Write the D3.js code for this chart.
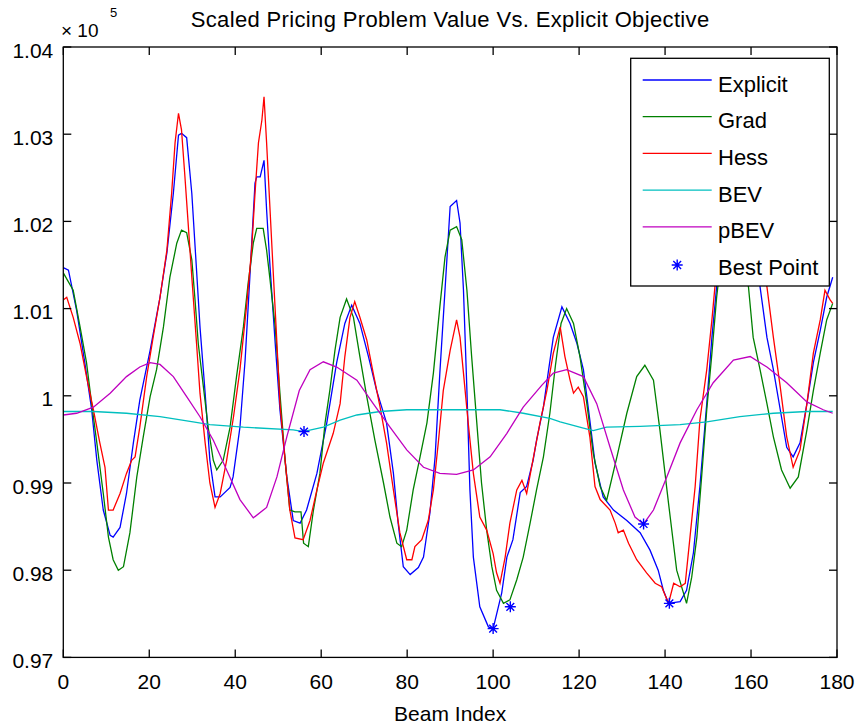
<!DOCTYPE html>
<html>
<head>
<meta charset="utf-8">
<script src="https://cdnjs.cloudflare.com/ajax/libs/d3/7.8.5/d3.min.js"></script>
<style>
  body { margin: 0; background: #fff; }
  text { font-family: "Liberation Sans", Arial, sans-serif; fill: #000; }
</style>
</head>
<body>
<script>
// values, [beam index, value / 1e5]
var explicit = [[0,1.0147],[1.2,1.0144],[3.1,1.0098],[5,1.0038],[6.6,0.9984],[7.8,0.9926],[9.3,0.9869],[10.9,0.984],[11.6,0.9838],[13.2,0.9849],[14.7,0.9888],[16.3,0.9946],[17.8,0.9995],[20.2,1.0052],[22.5,1.0113],[24.1,1.0164],[25.6,1.0232],[26.8,1.0299],[27.5,1.0301],[28.7,1.0296],[29.9,1.0232],[31,1.0144],[31.8,1.0079],[33,1.0003],[34.1,0.9926],[35.3,0.9884],[36.5,0.9884],[38.8,0.9895],[39.5,0.9907],[41.1,0.9964],[42.3,1.0041],[43.4,1.0136],[44.6,1.0244],[45,1.0251],[45.8,1.0251],[46.7,1.027],[47.3,1.0213],[48.1,1.0148],[49.3,1.006],[50.4,0.9984],[52,0.9907],[53.5,0.9857],[55.1,0.9854],[56.6,0.9869],[59,0.9911],[61.3,0.9969],[63.6,1.0038],[65.5,1.0083],[67.1,1.0104],[69,1.0083],[71,1.0045],[72.9,1.0006],[75.2,0.9969],[76.8,0.9911],[77.9,0.9854],[79.1,0.9804],[80.7,0.9795],[82.6,0.9803],[83.8,0.9815],[85.3,0.9866],[86.5,0.993],[87.6,1.0026],[88.8,1.0121],[90,1.0217],[91.5,1.0224],[92.3,1.0198],[93.1,1.0121],[93.9,1.0006],[94.6,0.9892],[95.4,0.9815],[96.9,0.9758],[98.9,0.9735],[100,0.9733],[102,0.9774],[103.2,0.9815],[104.6,0.9835],[106.3,0.9889],[107.8,0.9896],[109.3,0.9926],[110.1,0.9949],[111.7,0.9987],[112.8,1.0026],[114,1.0067],[116,1.0102],[117.9,1.0083],[119.5,1.006],[121,1.003],[122.5,0.9972],[123.7,0.9923],[125.6,0.9884],[128,0.9869],[131.1,0.9857],[134.2,0.9843],[136.5,0.9823],[138.4,0.98],[139.6,0.9777],[140.8,0.9762],[143.5,0.9764],[145,0.9777],[146.6,0.982],[148.1,0.9896],[149.7,0.9991],[150.9,1.0067],[152,1.0125],[154,1.022],[156.5,1.029],[158.5,1.026],[160.5,1.02],[162.1,1.0125],[163.7,1.0067],[165.2,1.003],[166.8,0.9984],[168.3,0.9941],[169.8,0.993],[171.4,0.9946],[173,0.9991],[174.5,1.0038],[176.1,1.0075],[177.6,1.0113],[179,1.0136]];

var grad = [[0,1.0141],[2.3,1.0121],[3.9,1.0079],[5.4,1.0038],[6.6,0.9991],[7.8,0.9946],[9.3,0.9888],[10.5,0.9838],[11.6,0.9812],[12.8,0.98],[14,0.9804],[15.5,0.9843],[17.1,0.9907],[18.6,0.9953],[20.2,0.9999],[21.7,1.003],[23.3,1.0079],[24.8,1.0136],[26.4,1.0175],[27.5,1.019],[28.7,1.0187],[29.9,1.0156],[30.6,1.0113],[31.4,1.006],[32.6,1.001],[33.7,0.9964],[34.9,0.9926],[35.7,0.9915],[37.2,0.9926],[38.8,0.9964],[40.3,1.0022],[41.9,1.0079],[43,1.0129],[44.2,1.0175],[45,1.0192],[46.5,1.0192],[47.3,1.0167],[48.1,1.0133],[49.3,1.0079],[50.4,1.0003],[51.6,0.9926],[52.7,0.9869],[53.9,0.9867],[55.3,0.9867],[55.9,0.9831],[57,0.9827],[58.2,0.9869],[59.7,0.9911],[60.9,0.9969],[62,1.0006],[63.2,1.0052],[64.4,1.009],[65.9,1.0111],[67.5,1.009],[69,1.0045],[70.6,0.9999],[72.5,0.9949],[74.5,0.99],[76,0.9861],[77.6,0.9831],[78.7,0.9827],[79.9,0.9846],[81.4,0.9892],[83,0.993],[84.6,0.9969],[86.1,1.0026],[87.6,1.0102],[88.8,1.0159],[90,1.019],[91.5,1.0194],[92.7,1.0179],[93.9,1.0121],[95,1.0045],[96.2,0.9969],[97.3,0.99],[98.5,0.9846],[99.7,0.9804],[100.8,0.9777],[102.4,0.9762],[103.9,0.9766],[105.5,0.9789],[107,0.9815],[108.6,0.9854],[110.1,0.9892],[111.7,0.993],[113.2,0.998],[114.5,1.0035],[115.8,1.0083],[117.1,1.01],[118.7,1.0083],[120.2,1.0045],[121.8,0.9991],[123.3,0.9934],[124.9,0.9896],[126.4,0.988],[128.8,0.993],[131.1,0.998],[133.4,1.0022],[135.3,1.0035],[137.3,1.0018],[138.8,0.9961],[140.8,0.9877],[142.7,0.98],[145,0.9762],[146.2,0.9792],[147.4,0.9838],[148.5,0.9907],[149.7,0.9984],[150.9,1.0049],[152,1.0113],[153.8,1.019],[155.5,1.0235],[157.3,1.021],[159.4,1.0125],[160.5,1.0067],[162.1,1.003],[163.7,0.9991],[165.2,0.9953],[167.1,0.9915],[169.1,0.9894],[171,0.9907],[173,0.9961],[174.5,1.0006],[176.1,1.0049],[177.6,1.0087],[179,1.0106]];

var hess = [[0,1.011],[0.8,1.0113],[2.3,1.009],[3.9,1.006],[5.4,1.0022],[7,0.9984],[8.5,0.9946],[9.7,0.9918],[10.5,0.9869],[11.6,0.9869],[13.2,0.9888],[14.7,0.9911],[15.9,0.9926],[16.7,0.993],[17.8,0.9964],[19.4,1.0022],[20.9,1.0067],[22.5,1.0113],[24.1,1.0167],[25.2,1.0232],[26,1.029],[26.8,1.0324],[27.5,1.0305],[28.3,1.0251],[29.1,1.0194],[29.9,1.0136],[31,1.006],[31.8,1.0003],[33,0.9946],[34.1,0.99],[35.3,0.9872],[36.5,0.9888],[38,0.9926],[39.6,0.9976],[41.1,1.003],[42.7,1.0106],[43.8,1.0167],[44.6,1.0232],[45.4,1.029],[46.2,1.0316],[46.7,1.0343],[47.3,1.029],[48.1,1.0213],[48.9,1.0136],[49.7,1.006],[50.4,0.9991],[51.6,0.9926],[52.7,0.9869],[53.9,0.9837],[55.8,0.9835],[57.4,0.9857],[59,0.9892],[60.5,0.9923],[62.8,0.9957],[64.4,0.9991],[65.5,1.0045],[66.7,1.009],[67.8,1.0108],[69,1.009],[70.6,1.0064],[72.1,1.0026],[73.7,0.9987],[75.2,0.9946],[76.8,0.9892],[78.3,0.9843],[79.9,0.9812],[81.1,0.9812],[81.8,0.9827],[83.4,0.9835],[84.9,0.9857],[86.1,0.9892],[87.3,0.9949],[88.4,1.0006],[90,1.0052],[91.5,1.0087],[92.3,1.0067],[93.1,1.0026],[94.2,0.9969],[95.4,0.9911],[96.9,0.9861],[98.5,0.9846],[100,0.9819],[100.8,0.9797],[101.6,0.9785],[102.8,0.9815],[103.9,0.9854],[105.5,0.9892],[106.7,0.9903],[107.8,0.9888],[109.4,0.993],[110.9,0.9969],[112.5,1.0006],[114,1.0049],[115.6,1.0079],[116.7,1.0045],[117.9,1.0018],[118.7,1.0003],[119.8,1.001],[121,0.9999],[122.5,0.9953],[123.7,0.9896],[124.9,0.9881],[127.2,0.9869],[128.4,0.9854],[129.1,0.9843],[130.3,0.9846],[131.5,0.9831],[133.4,0.9812],[135.7,0.9797],[137.7,0.9785],[139.2,0.9781],[140.8,0.9762],[142,0.9785],[143.5,0.9781],[144.7,0.9785],[145.8,0.9838],[147,0.9896],[148.1,0.9972],[149.7,1.003],[150.9,1.0087],[151.6,1.0125],[153.5,1.022],[156.5,1.032],[159,1.028],[161.5,1.02],[163.7,1.0125],[165.2,1.0067],[166.8,1.001],[168.3,0.9953],[169.8,0.9918],[171.4,0.9938],[173,0.9991],[174.5,1.0049],[176.1,1.0087],[177.2,1.0121],[178.4,1.011],[179,1.0106]];

var bev = [[0,0.9982],[7,0.9982],[14.7,0.998],[22.5,0.9976],[30.2,0.997],[34.1,0.9967],[41.9,0.9964],[53.5,0.9961],[55.8,0.9959],[60.5,0.9964],[64.4,0.9972],[68.3,0.9978],[73.7,0.9982],[79.9,0.9984],[87.6,0.9984],[95.4,0.9984],[101.6,0.9984],[107,0.998],[113.2,0.9974],[115.6,0.997],[121,0.9963],[123.3,0.996],[126.4,0.9964],[134.2,0.9965],[143.5,0.9967],[149.7,0.997],[157.4,0.9976],[165.2,0.998],[173,0.9982],[179,0.9982]];

var pbev = [[0,0.9978],[3.1,0.998],[7,0.9987],[10.9,1.0003],[14.7,1.0022],[17.8,1.0033],[20.2,1.0038],[22.5,1.0036],[25.6,1.0022],[28.7,0.9999],[31.8,0.9976],[34.9,0.9949],[38,0.9915],[41.1,0.9881],[44.2,0.986],[47.3,0.9872],[49.7,0.9907],[52,0.9953],[54.9,1.0006],[57.4,1.003],[60.5,1.0039],[63.6,1.0033],[68.3,1.0018],[72.1,0.9991],[76,0.9964],[79.9,0.9938],[83.8,0.9918],[87.6,0.9911],[91.5,0.991],[95.4,0.9915],[99.3,0.993],[103.2,0.9957],[107,0.9987],[111.3,1.0012],[114,1.0026],[117.1,1.003],[121,1.0022],[124.1,0.9991],[127.2,0.9941],[130.3,0.9892],[133,0.9861],[135,0.9853],[137.3,0.9869],[140.4,0.9907],[143.5,0.9946],[147.4,0.9984],[151.2,1.0015],[155.9,1.0041],[159.8,1.0045],[163.7,1.0033],[168.3,1.0015],[173,0.9993],[176.8,0.9984],[179,0.998]];

var bestPoints = [[56,0.9959],[100,0.9733],[104,0.9758],[135,0.9853],[141,0.9762]];

var seriesNames = ["Explicit", "Grad", "Hess", "BEV", "pBEV", "Best Point"];
var seriesColors = ["#0000ff", "#008000", "#ff0000", "#00bfbf", "#bf00bf", "#0000ff"];
var xTicks = [0, 20, 40, 60, 80, 100, 120, 140, 160, 180];
var yTicks = [0.97, 0.98, 0.99, 1.00, 1.01, 1.02, 1.03, 1.04];

var width = 858,
    height = 728;
// plot box (window.top is read only, so no bare "top")
var plotLeft = 63.3, plotRight = 837, plotTop = 47, plotBottom = 657.4;

var svg = d3.select("body").append("svg")
    .attr("width", width)
    .attr("height", height);

var x = d3.scaleLinear().domain([0, 180]).range([plotLeft, plotRight]);
var y = d3.scaleLinear().domain([0.97, 1.04]).range([plotBottom, plotTop]);

svg.append("clipPath").attr("id", "plot")
  .append("rect")
    .attr("x", plotLeft).attr("y", plotTop)
    .attr("width", plotRight - plotLeft).attr("height", plotBottom - plotTop);

var line = d3.line()
    .x(function(d) { return x(d[0]); })
    .y(function(d) { return y(d[1]); });

// the five curves, same order as matlab drew them
var lines = svg.append("g").attr("clip-path", "url(#plot)");
[explicit, grad, hess, bev, pbev].forEach(function(s, i) {
    lines.append("path")
        .attr("d", line(s))
        .attr("fill", "none")
        .attr("stroke", seriesColors[i])
        .attr("stroke-width", 1.3);
});

// matlab '*' marker
function star(r) {
    var a = r * 0.7071;
    return "M" + (-r) + ",0H" + r + "M0," + (-r) + "V" + r +
        "M" + (-a) + "," + (-a) + "L" + a + "," + a +
        "M" + (-a) + "," + a + "L" + a + "," + (-a);
}

lines.selectAll(".best")
    .data(bestPoints)
    .enter().append("path")
    .attr("class", "best")
    .attr("transform", function(d) { return "translate(" + x(d[0]) + "," + y(d[1]) + ")"; })
    .attr("d", star(5.5))
    .attr("stroke", seriesColors[5])
    .attr("stroke-width", 1.4);

// box with ticks on all sides, pointing in
var tickLen = 8;
var axes = svg.append("g").attr("stroke", "#000").attr("stroke-width", 1.3);
axes.append("rect")
    .attr("x", plotLeft).attr("y", plotTop)
    .attr("width", plotRight - plotLeft).attr("height", plotBottom - plotTop)
    .attr("fill", "none");

xTicks.forEach(function(t) {
    axes.append("line").attr("x1", x(t)).attr("x2", x(t)).attr("y1", plotBottom).attr("y2", plotBottom - tickLen);
    axes.append("line").attr("x1", x(t)).attr("x2", x(t)).attr("y1", plotTop).attr("y2", plotTop + tickLen);
});
yTicks.forEach(function(t) {
    axes.append("line").attr("x1", plotLeft).attr("x2", plotLeft + tickLen).attr("y1", y(t)).attr("y2", y(t));
    axes.append("line").attr("x1", plotRight).attr("x2", plotRight - tickLen).attr("y1", y(t)).attr("y2", y(t));
});

svg.selectAll(".xlab")
    .data(xTicks)
    .enter().append("text")
    .attr("x", function(d) { return x(d); })
    .attr("y", plotBottom + 32)
    .attr("text-anchor", "middle")
    .style("font-size", "21px")
    .text(function(d) { return d; });

svg.selectAll(".ylab")
    .data(yTicks)
    .enter().append("text")
    .attr("x", plotLeft - 10)
    .attr("y", function(d) { return y(d) + 10.5; })
    .attr("text-anchor", "end")
    .style("font-size", "21px")
    .text(function(d) { return +d.toFixed(2); });

// exponent label
svg.append("text").attr("x", 61).attr("y", 37).style("font-size", "19px").text("\u00d7 10");
svg.append("text").attr("x", 110).attr("y", 17).style("font-size", "13px").text("5");

svg.append("text")
    .attr("x", (plotLeft + plotRight) / 2)
    .attr("y", 27)
    .attr("text-anchor", "middle")
    .style("font-size", "22px")
    .style("letter-spacing", "0.35px")
    .text("Scaled Pricing Problem Value Vs. Explicit Objective");

svg.append("text")
    .attr("x", (plotLeft + plotRight) / 2)
    .attr("y", 720.5)
    .attr("text-anchor", "middle")
    .style("font-size", "21px")
    .text("Beam Index");

// legend
var legend = svg.append("g");
legend.append("rect")
    .attr("x", 630.7).attr("y", 58.3)
    .attr("width", 198.6).attr("height", 227.7)
    .attr("fill", "#fff")
    .attr("stroke", "#000")
    .attr("stroke-width", 1.3);

seriesNames.forEach(function(name, i) {
    var base = 91.5 + i * 36.7;
    if (i < 5) {
        legend.append("line")
            .attr("x1", 642.7).attr("x2", 711.7)
            .attr("y1", base - 11.5).attr("y2", base - 11.5)
            .attr("stroke", seriesColors[i])
            .attr("stroke-width", 1.3);
    } else {
        legend.append("path")
            .attr("transform", "translate(677.2," + (base - 10) + ")")
            .attr("d", star(5.5))
            .attr("stroke", seriesColors[i])
            .attr("stroke-width", 1.4);
    }
    legend.append("text")
        .attr("x", 718)
        .attr("y", base)
        .style("font-size", "22px")
        .text(name);
});
</script>
</body>
</html>
